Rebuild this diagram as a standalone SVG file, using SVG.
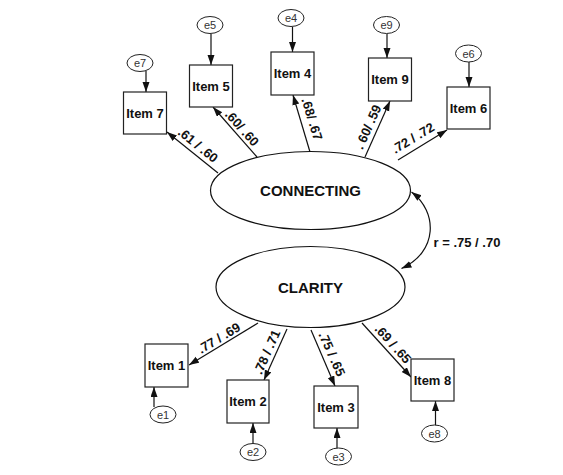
<svg xmlns="http://www.w3.org/2000/svg" width="563" height="475" viewBox="0 0 563 475">
<defs>
<marker id="ah" markerUnits="userSpaceOnUse" markerWidth="11" markerHeight="8" refX="10" refY="3.5" orient="auto-start-reverse"><path d="M0,0 L10,3.5 L0,7 z" fill="#111"/></marker>
<style>
.box{fill:#fff;stroke:#222;stroke-width:1.2}
.lat{fill:#fff;stroke:#111;stroke-width:1.2}
.err{fill:#fff;stroke:#222;stroke-width:1}
.it{font-family:"Liberation Sans",Arial,sans-serif;font-weight:bold;font-size:13px;fill:#111;text-anchor:middle;dominant-baseline:central}
.lt{font-family:"Liberation Sans",Arial,sans-serif;font-weight:bold;font-size:15px;fill:#111;text-anchor:middle;dominant-baseline:central}
.et{font-family:"Liberation Sans",Arial,sans-serif;font-size:11px;fill:#333;text-anchor:middle;dominant-baseline:central}
.lb{font-family:"Liberation Sans",Arial,sans-serif;font-weight:bold;font-size:13px;fill:#111;text-anchor:middle;dominant-baseline:central}
.c{stroke:#111;stroke-width:1.2;fill:none;marker-end:url(#ah)}
</style>
</defs>
<rect width="563" height="475" fill="#fff"/>
<g id="connectors">
<line class="c" x1="218" y1="173" x2="167" y2="132"/>
<line class="c" x1="257" y1="157" x2="213" y2="107"/>
<line class="c" x1="310" y1="152" x2="293" y2="95"/>
<line class="c" x1="365" y1="157" x2="390" y2="101"/>
<line class="c" x1="398" y1="160" x2="447" y2="130"/>
<line class="c" x1="258" y1="323" x2="189" y2="365"/>
<line class="c" x1="287" y1="329" x2="264" y2="380"/>
<line class="c" x1="311" y1="330" x2="335" y2="386"/>
<line class="c" x1="362" y1="323" x2="411" y2="377"/>
<line class="c" x1="146" y1="71" x2="146" y2="92"/>
<line class="c" x1="211" y1="34" x2="211" y2="65"/>
<line class="c" x1="292.5" y1="27" x2="292.5" y2="52"/>
<line class="c" x1="387" y1="34" x2="387" y2="58"/>
<line class="c" x1="469" y1="62" x2="469" y2="87"/>
<line class="c" x1="154" y1="407" x2="154" y2="387"/>
<line class="c" x1="253" y1="444" x2="253" y2="423"/>
<line class="c" x1="337" y1="449" x2="337" y2="428"/>
<line class="c" x1="435.5" y1="426" x2="435.5" y2="401"/>
<path class="c" d="M411.5,192 C438,212 438,252 401.5,268.5" marker-start="url(#ah)"/>
<text class="lb" x="198" y="145" transform="rotate(39 198 145)">.61 / .60</text>
<text class="lb" x="242" y="128" transform="rotate(48 242 128)">.60/ .60</text>
<text class="lb" x="312" y="119" transform="rotate(73 312 119)">.68/ .67</text>
<text class="lb" x="368" y="127" transform="rotate(-66 368 127)">. 60/ .59</text>
<text class="lb" x="413" y="138" transform="rotate(-31 413 138)">.72 / .72</text>
<text class="lb" x="219" y="338" transform="rotate(-31 219 338)">.77 / .69</text>
<text class="lb" x="267" y="352" transform="rotate(-66 267 352)">.78 / .71</text>
<text class="lb" x="332" y="354" transform="rotate(66 332 354)">.75 / .65</text>
<text class="lb" x="393" y="344" transform="rotate(48 393 344)">.69 / .65</text>
<text class="lb" x="467" y="242">r = .75 / .70</text>
</g>
<g id="connecting"><ellipse class="lat" cx="310.5" cy="190.5" rx="100" ry="39"/><text class="lt" x="310.5" y="190.5">CONNECTING</text></g>
<g id="clarity"><ellipse class="lat" cx="310.5" cy="287" rx="94.5" ry="40.5"/><text class="lt" x="310.5" y="287">CLARITY</text></g>
<g id="item7"><rect class="box" x="123.5" y="92" width="43" height="42"/><text class="it" x="145" y="113">Item 7</text></g>
<g id="item5"><rect class="box" x="189.5" y="65" width="43" height="42"/><text class="it" x="211" y="86">Item 5</text></g>
<g id="item4"><rect class="box" x="271" y="52" width="43" height="43"/><text class="it" x="292.5" y="73.5">Item 4</text></g>
<g id="item9"><rect class="box" x="368.5" y="58" width="43" height="43"/><text class="it" x="390" y="79.5">Item 9</text></g>
<g id="item6"><rect class="box" x="447" y="87" width="43" height="42"/><text class="it" x="468.5" y="108">Item 6</text></g>
<g id="item1"><rect class="box" x="145" y="344" width="43" height="43"/><text class="it" x="166.5" y="365.5">Item 1</text></g>
<g id="item2"><rect class="box" x="227" y="380" width="42" height="43"/><text class="it" x="248" y="401.5">Item 2</text></g>
<g id="item3"><rect class="box" x="314" y="386" width="44" height="42"/><text class="it" x="336" y="407">Item 3</text></g>
<g id="item8"><rect class="box" x="411" y="359" width="43" height="42"/><text class="it" x="432.5" y="380">Item 8</text></g>
<g id="e7"><ellipse class="err" cx="140" cy="63" rx="13" ry="8.5"/><text class="et" x="140" y="63">e7</text></g>
<g id="e5"><ellipse class="err" cx="210" cy="25" rx="13" ry="8.5"/><text class="et" x="210" y="25">e5</text></g>
<g id="e4"><ellipse class="err" cx="291" cy="18" rx="13" ry="8.5"/><text class="et" x="291" y="18">e4</text></g>
<g id="e9"><ellipse class="err" cx="386.5" cy="25" rx="13" ry="8.5"/><text class="et" x="386.5" y="25">e9</text></g>
<g id="e6"><ellipse class="err" cx="468.5" cy="53.5" rx="13" ry="8.5"/><text class="et" x="468.5" y="53.5">e6</text></g>
<g id="e1"><ellipse class="err" cx="163" cy="414.5" rx="13" ry="8.5"/><text class="et" x="163" y="414.5">e1</text></g>
<g id="e2"><ellipse class="err" cx="253" cy="452" rx="13" ry="8.5"/><text class="et" x="253" y="452">e2</text></g>
<g id="e3"><ellipse class="err" cx="338.5" cy="456.5" rx="13" ry="8.5"/><text class="et" x="338.5" y="456.5">e3</text></g>
<g id="e8"><ellipse class="err" cx="434.5" cy="433.5" rx="13" ry="8.5"/><text class="et" x="434.5" y="433.5">e8</text></g>
</svg>
